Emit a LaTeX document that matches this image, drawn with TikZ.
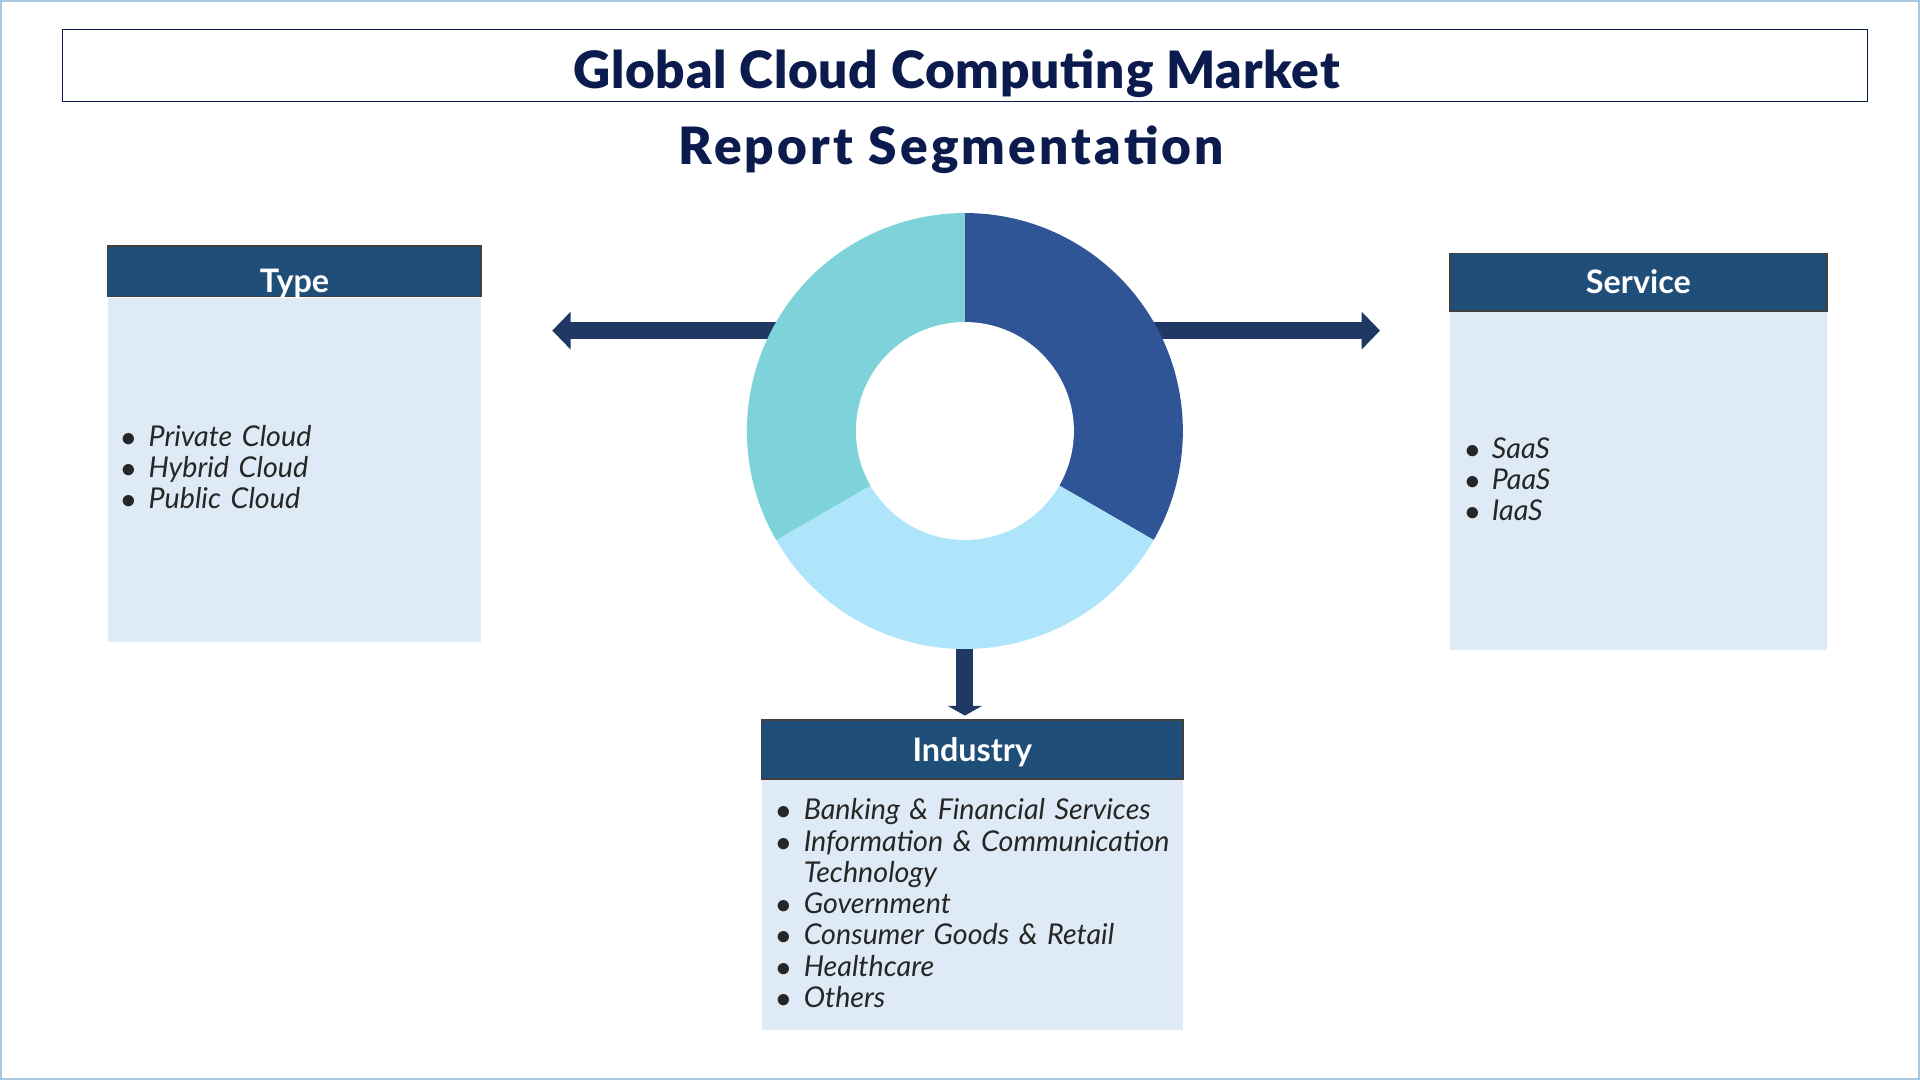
\documentclass[tikz,border=0pt]{standalone}
\usepackage{fontspec}
\setmainfont{Lato}
\newfontfamily\blackfont{Lato Black}
\usepackage{xcolor}
\usetikzlibrary{arrows.meta,positioning}

\definecolor{navy}{HTML}{0C1B4D}
\definecolor{hdrblue}{HTML}{1F4E79}
\definecolor{arrowblue}{HTML}{1F3864}
\definecolor{panelblue}{HTML}{DEEAF6}
\definecolor{segdark}{HTML}{2F5597}
\definecolor{segteal}{HTML}{7ED2DA}
\definecolor{seglight}{HTML}{AEE5FB}
\definecolor{framecol}{HTML}{A9C8E0}

\newcommand{\segitem}[1]{\par\noindent\makebox[11pt][l]{$\bullet$}#1}
\newcommand{\segmore}[1]{\par\noindent\hspace*{11pt}#1}

\begin{document}
\begin{tikzpicture}[x=0.5pt,y=0.5pt]
\tikzset{every node/.style={inner sep=0pt}}
\tikzset{header/.style={draw=black!75,line width=0.6pt,fill=hdrblue,text=white,text height=12.5pt,text depth=3pt,font=\bfseries\fontsize{13.2}{15}\selectfont}}
\tikzset{panel/.style={fill=panelblue,below=0pt of #1}}
\tikzset{items/.style={anchor=west,text width=200pt,align=left,text=black!85,font=\itshape\fontsize{11.7}{12.75}\selectfont}}
\tikzset{bigarrow/.style={draw=arrowblue,line width=7pt,-{Triangle[width=15pt,length=7.5pt]}}}
\tikzset{heading/.style={text=navy,font=\blackfont\fontsize{21}{24}\selectfont}}

\useasboundingbox (0,0) rectangle (1568,882);
\fill[white] (0,0) rectangle (1568,882);
\draw[framecol,line width=1.5pt] (0,0) rectangle (1568,882);

\node[draw=navy,line width=0.7pt,minimum width=737pt,minimum height=29.5pt] (titlebox) at (788,828.5) {};
\node[heading] (title) at (781,822) {\addfontfeatures{LetterSpace=1.5}Global Cloud Computing Market};
\node[heading] (subtitle) at (777,760) {\addfontfeatures{LetterSpace=6.2}Report Segmentation};

\node[circle,minimum size=178pt] (donut) at (788,530) {};
\coordinate (leftend) at (451,612);
\coordinate (rightend) at (1127,612);

\node[header,text height=19pt,text depth=1.5pt,minimum width=152.5pt,minimum height=20.5pt] (typehead) at (240.5,660.5) {Type};
\node[panel=typehead,minimum width=152.5pt,minimum height=140.5pt] (typebody) {};
\node[header,minimum width=154pt,minimum height=23.5pt] (servicehead) at (1338,651.5) {Service};
\node[panel=servicehead,minimum width=154pt,minimum height=138pt] (servicebody) {};
\node[header,minimum width=172pt,minimum height=24pt] (industryhead) at (794,270) {Industry};
\node[panel=industryhead,minimum width=172pt,minimum height=102pt] (industrybody) {};

\draw[bigarrow] (donut.center |- leftend) -- (leftend);
\draw[bigarrow] (donut.center |- rightend) -- (rightend);
\draw[draw=arrowblue,line width=7pt,-{Triangle[width=14pt,length=4pt]},shorten >=1.5pt] (donut.south) -- (industryhead.north -| donut.south);

\fill[segdark] (donut.center) -- ++(90:178) arc (90:-30:178) -- cycle;
\fill[seglight] (donut.center) -- ++(-30:178) arc (-30:-150:178) -- cycle;
\fill[segteal] (donut.center) -- ++(210:178) arc (210:90:178) -- cycle;
\fill[white] (donut.center) circle (89);

\node[items] (typelist) at (99,504.5) {\segitem{Private Cloud}\segitem{Hybrid Cloud}\segitem{Public Cloud}};
\node[items] (servicelist) at (1196,495) {\segitem{SaaS}\segitem{PaaS}\segitem{IaaS}};
\node[items] (industrylist) at (634,148.5) {\segitem{Banking \& Financial Services}\segitem{Information \& Communication}\segmore{Technology}\segitem{Government}\segitem{Consumer Goods \& Retail}\segitem{Healthcare}\segitem{Others}};

\end{tikzpicture}
\end{document}
